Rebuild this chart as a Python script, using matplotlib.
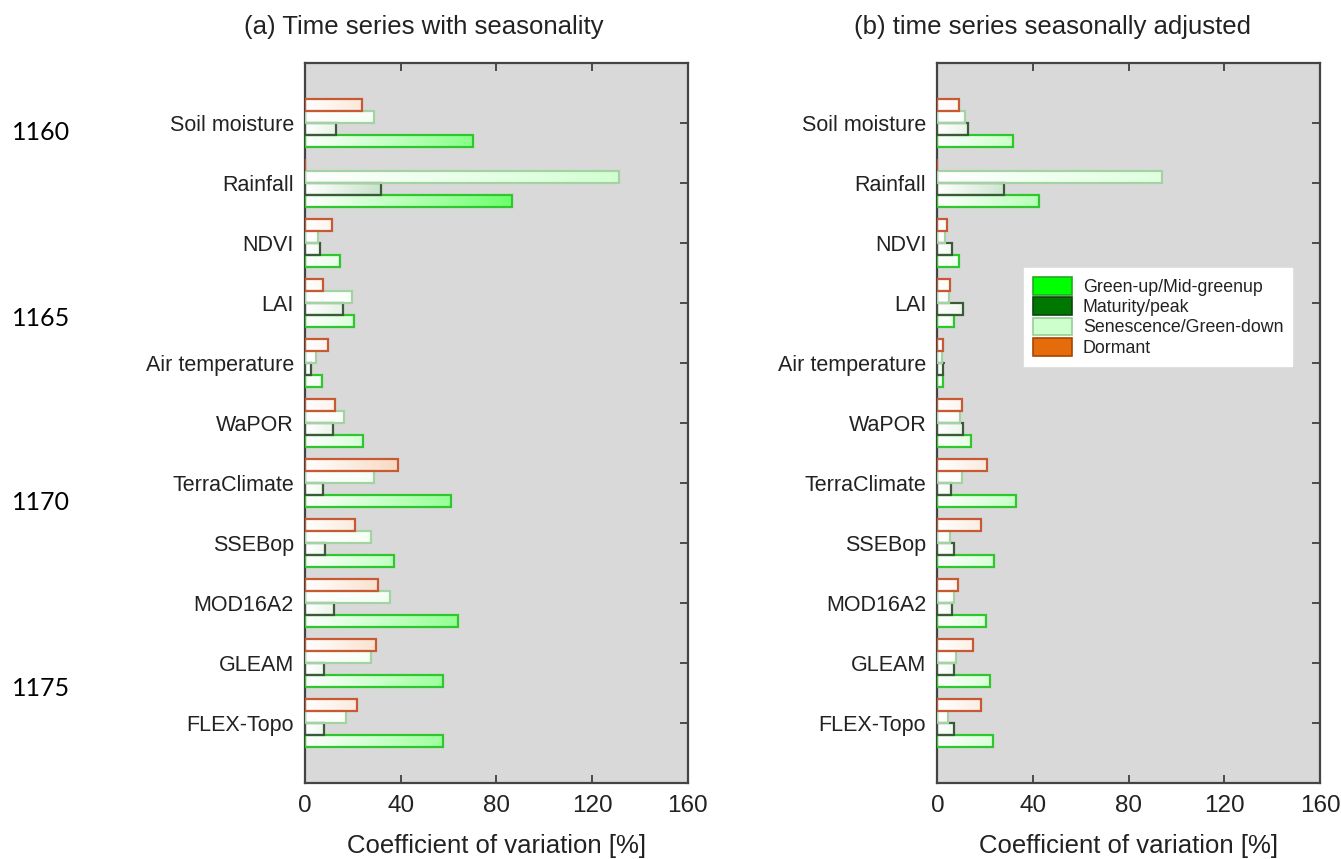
import numpy as np
import matplotlib
matplotlib.use("Agg")
import matplotlib.pyplot as plt
from matplotlib.colors import LinearSegmentedColormap
from matplotlib.patches import Patch

plt.rcParams['font.family'] = ['Liberation Sans', 'DejaVu Sans']

# Variables (top to bottom)
variables = ["Soil moisture", "Rainfall", "NDVI", "LAI", "Air temperature", "WaPOR",
             "TerraClimate", "SSEBop", "MOD16A2", "GLEAM", "FLEX-Topo"]

stages = ["Green-up/Mid-greenup", "Maturity/peak", "Senescence/Green-down", "Dormant"]

# Coefficient of variation [%] per stage, (a) with seasonality
greenup_a = [70.2, 86.6, 14.8, 20.4, 7.0, 24.4, 61.0, 37.4, 63.9, 57.8, 57.8]
maturity_a = [13.1, 31.8, 6.3, 15.9, 2.4, 11.6, 7.4, 8.5, 12.0, 8.1, 8.1]
senescence_a = [28.9, 131.2, 5.6, 19.8, 4.5, 16.3, 28.9, 27.6, 35.6, 27.6, 17.0]
dormant_a = [23.9, 0.0, 11.4, 7.5, 9.8, 12.5, 39.1, 20.9, 30.6, 29.6, 21.6]

# (b) seasonally adjusted
greenup_b = [31.7, 42.4, 9.2, 7.0, 2.4, 14.2, 32.8, 23.7, 20.5, 22.2, 23.2]
maturity_b = [12.7, 27.8, 6.3, 10.9, 2.4, 10.9, 5.7, 6.9, 6.3, 6.9, 6.9]
senescence_b = [11.7, 94.1, 3.2, 4.9, 2.0, 9.5, 10.2, 5.4, 6.9, 7.8, 4.3]
dormant_b = [9.2, 0.0, 4.1, 5.3, 2.4, 10.3, 20.9, 18.2, 8.7, 14.8, 18.2]

line_numbers = ["1160", "1165", "1170", "1175"]

fill_colors = ["#00ff00", "#007700", "#ccffcc", "#e46c0a"]
edge_colors = ["#2ec82e", "#3a5a3a", "#a3d3a3", "#c75a35"]
legend_edges = ["#22aa22", "#114411", "#99cc99", "#aa4400"]
offsets = [0.3, 0.1, -0.1, -0.3]
bar_h = 0.2
text_col = "#222222"


def draw_panel(ax, series, title, title_x):
    ax.set_facecolor("#d9d9d9")
    ypos = np.arange(len(variables))
    for vals, fc, ec, off in zip(series, fill_colors, edge_colors, offsets):
        cmap = LinearSegmentedColormap.from_list("g", ["#ffffff", fc])
        for y, v in zip(ypos, vals):
            if v <= 0:
                continue
            # horizontal gradient, strength grows with the value
            grad = np.linspace(0, min(v / 150.0, 1.0), 64)[None, :]
            ax.imshow(grad, cmap=cmap, vmin=0, vmax=1, aspect="auto",
                      extent=[0, v, y + off - bar_h / 2, y + off + bar_h / 2],
                      interpolation="bilinear", zorder=2)
        ax.barh(ypos + off, vals, height=bar_h, fill=False, edgecolor=ec,
                linewidth=1.6, zorder=3)
    ax.set_xlim(0, 160)
    ax.set_ylim(11, -1)
    ax.set_xticks([0, 40, 80, 120, 160])
    ax.set_yticks(ypos)
    ax.set_yticklabels(variables)
    ax.tick_params(axis="both", direction="in", top=True, right=True,
                   length=6, width=1.2, colors="#333333", labelcolor=text_col)
    ax.tick_params(axis="x", labelsize=17.5, pad=9)
    ax.tick_params(axis="y", labelsize=15.5, pad=8)
    for s in ax.spines.values():
        s.set_color("#444444")
        s.set_linewidth(1.6)
    ax.set_xlabel("Coefficient of variation [%]", fontsize=18.5, color=text_col, labelpad=12)
    fig.text(title_x, 0.969, title, fontsize=18.5, color=text_col, ha="center", va="center")


fig = plt.figure(figsize=(13.41, 8.59), dpi=100)
ax_a = fig.add_axes([0.2274, 0.0885, 0.2854, 0.8382])
ax_b = fig.add_axes([0.6990, 0.0885, 0.2854, 0.8382])

draw_panel(ax_a, [greenup_a, maturity_a, senescence_a, dormant_a],
           "(a) Time series with seasonality", 424 / 1341)
draw_panel(ax_b, [greenup_b, maturity_b, senescence_b, dormant_b],
           "(b) time series seasonally adjusted", 1052 / 1341)

handles = [Patch(facecolor=fc, edgecolor=ec, linewidth=1.2)
           for fc, ec in zip(fill_colors, legend_edges)]
leg = ax_b.legend(handles, stages, loc="upper left", bbox_to_anchor=(0.227, 0.715),
                  fontsize=12.8, frameon=True, fancybox=False, framealpha=1,
                  edgecolor="white", borderpad=0.5, labelspacing=0.08,
                  handlelength=2.2, handleheight=1.15, handletextpad=0.6,
                  borderaxespad=0)
for t in leg.get_texts():
    t.set_color(text_col)

# line numbers in the left margin
for i, num in enumerate(line_numbers):
    fig.text(12 / 1341, 1 - (133 + 185 * i) / 859, num, fontsize=18,
             family=["Lato", "DejaVu Sans"], color="black", va="center", ha="left")

fig.savefig("out.png", dpi=100)
